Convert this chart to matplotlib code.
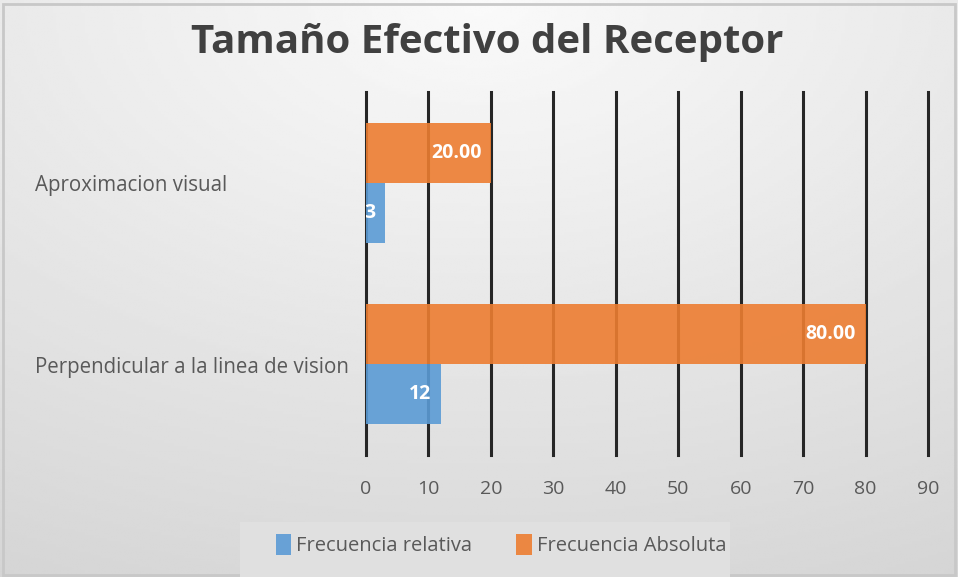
import matplotlib
matplotlib.use("Agg")
import matplotlib.pyplot as plt
import numpy as np

categories = ["Perpendicular a la linea de vision", "Aproximacion visual"]
frec_relativa = [12, 3]
frec_absoluta = [80.00, 20.00]
labels_relativa = ["12", "3"]
labels_absoluta = ["80.00", "20.00"]
xticks = [0, 10, 20, 30, 40, 50, 60, 70, 80, 90]

W, H = 958, 577
fig = plt.figure(figsize=(W / 100, H / 100), dpi=100)

# background gradient
bg = fig.add_axes([0, 0, 1, 1], zorder=-10)
yy, xx = np.mgrid[0:1:200j, 0:1:300j]
val = 0.98 - 0.13 * np.sqrt(((xx - 0.5) * 1.0) ** 2 + (yy * 1.0) ** 2)
bg.imshow(val, cmap="gray", vmin=0, vmax=1, aspect="auto", extent=[0, 1, 0, 1], origin="upper")
bg.set_xlim(0, 1)
bg.set_ylim(0, 1)
bg.axis("off")
bg.add_patch(plt.Rectangle((0.003, 0.003), 0.994, 0.99, fill=False, edgecolor="#c8c8c8", lw=2))
bg.add_patch(plt.Rectangle((240 / W, 0.0), (730 - 240) / W, (577 - 522) / H,
                           facecolor="#e0e0e0", edgecolor="none"))

ax = fig.add_axes([366 / W, 1 - 455 / H, (928 - 366) / W, (455 - 92) / H])
ax.patch.set_alpha(0)
y = np.arange(len(categories))
h = 0.33
ax.barh(y + h / 2, frec_absoluta, height=h, color="#ED7D31", label="Frecuencia Absoluta", zorder=3, alpha=0.9)
ax.barh(y - h / 2, frec_relativa, height=h, color="#5B9BD5", label="Frecuencia relativa", zorder=3, alpha=0.9)

lab_kw = dict(ha="right", va="center", color="white", fontweight="bold", fontsize=14,
              family="Open Sans", zorder=5, clip_on=True)
for yi, v, t in zip(y, frec_absoluta, labels_absoluta):
    ax.text(v - 1.5, yi + h / 2, t, **lab_kw)
for yi, v, t in zip(y, frec_relativa, labels_relativa):
    ax.text(v - 1.5, yi - h / 2, t, **lab_kw)

ax.set_xlim(0, 90)
ax.set_ylim(-0.5, 1.5)
ax.set_xticks(xticks)
ax.set_xticklabels([str(t) for t in xticks], fontsize=14, color="#595959", family="Open Sans")
ax.tick_params(axis="x", length=0, pad=18)
ax.set_yticks(y)
ax.set_yticklabels([])
ax.tick_params(axis="y", length=0)
for yi, c in zip(y, categories):
    fig.text(35 / W, 1 - (367 if yi == 0 else 186) / H, c, ha="left", va="center",
             fontsize=14.8, color="#595959", family="Open Sans")
ax.grid(axis="x", color="#262626", lw=2.2, zorder=1)
for gl in ax.get_xgridlines():
    gl.set_clip_on(False)
for s in ax.spines.values():
    s.set_visible(False)

fig.text(487 / W, 1 - 42 / H, "Tamaño Efectivo del Receptor", ha="center", va="center",
         fontsize=29, fontweight="bold", color="#404040", family="Open Sans")

handles, labs = ax.get_legend_handles_labels()
leg = fig.legend(handles[::-1], labs[::-1], loc="center", bbox_to_anchor=(501 / W, 1 - 545 / H),
                 ncol=2, frameon=False, handlelength=0.75, handleheight=1.2,
                 handletextpad=0.25, columnspacing=2.2, prop={"family": "Open Sans", "size": 14.5})
for t in leg.get_texts():
    t.set_color("#595959")

fig.savefig("out.png", dpi=100)
